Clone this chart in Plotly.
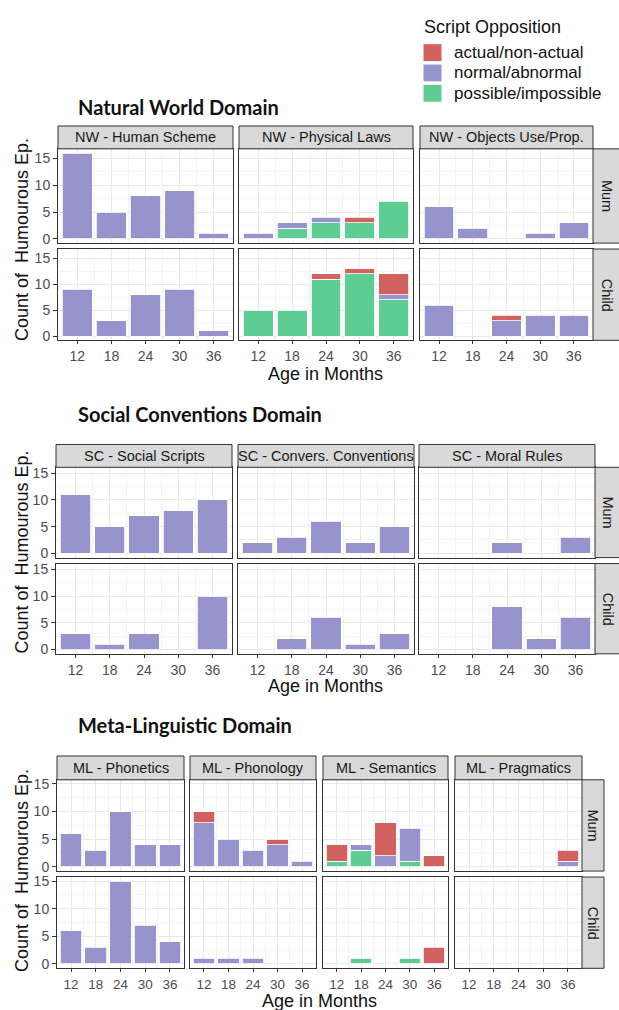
import plotly.graph_objects as go

W, H = 619, 1010

# ---------------- data ----------------
ages = [12, 18, 24, 30, 36]
age_labels = ["12", "18", "24", "30", "36"]
series_names = ["actual/non-actual", "normal/abnormal", "possible/impossible"]
row_names = ["Mum", "Child"]
y_ticks = [0, 5, 10, 15]

nw_panels = ["NW - Human Scheme", "NW - Physical Laws", "NW - Objects Use/Prop."]
nw_mum_actual = [[0, 0, 0, 0, 0], [0, 0, 0, 1, 0], [0, 0, 0, 0, 0]]
nw_mum_normal = [[16, 5, 8, 9, 1], [1, 1, 1, 0, 0], [6, 2, 0, 1, 3]]
nw_mum_possible = [[0, 0, 0, 0, 0], [0, 2, 3, 3, 7], [0, 0, 0, 0, 0]]
nw_child_actual = [[0, 0, 0, 0, 0], [0, 0, 1, 1, 4], [0, 0, 1, 0, 0]]
nw_child_normal = [[9, 3, 8, 9, 1], [0, 0, 0, 0, 1], [6, 0, 3, 4, 4]]
nw_child_possible = [[0, 0, 0, 0, 0], [5, 5, 11, 12, 7], [0, 0, 0, 0, 0]]

sc_panels = ["SC - Social Scripts", "SC - Convers. Conventions", "SC - Moral Rules"]
sc_mum_actual = [[0, 0, 0, 0, 0], [0, 0, 0, 0, 0], [0, 0, 0, 0, 0]]
sc_mum_normal = [[11, 5, 7, 8, 10], [2, 3, 6, 2, 5], [0, 0, 2, 0, 3]]
sc_mum_possible = [[0, 0, 0, 0, 0], [0, 0, 0, 0, 0], [0, 0, 0, 0, 0]]
sc_child_actual = [[0, 0, 0, 0, 0], [0, 0, 0, 0, 0], [0, 0, 0, 0, 0]]
sc_child_normal = [[3, 1, 3, 0, 10], [0, 2, 6, 1, 3], [0, 0, 8, 2, 6]]
sc_child_possible = [[0, 0, 0, 0, 0], [0, 0, 0, 0, 0], [0, 0, 0, 0, 0]]

ml_panels = ["ML - Phonetics", "ML - Phonology", "ML - Semantics", "ML - Pragmatics"]
ml_mum_actual = [[0, 0, 0, 0, 0], [2, 0, 0, 1, 0], [3, 0, 6, 0, 2], [0, 0, 0, 0, 2]]
ml_mum_normal = [[6, 3, 10, 4, 4], [8, 5, 3, 4, 1], [0, 1, 2, 6, 0], [0, 0, 0, 0, 1]]
ml_mum_possible = [[0, 0, 0, 0, 0], [0, 0, 0, 0, 0], [1, 3, 0, 1, 0], [0, 0, 0, 0, 0]]
ml_child_actual = [[0, 0, 0, 0, 0], [0, 0, 0, 0, 0], [0, 0, 0, 0, 3], [0, 0, 0, 0, 0]]
ml_child_normal = [[6, 3, 15, 7, 4], [1, 1, 1, 0, 0], [0, 0, 0, 0, 0], [0, 0, 0, 0, 0]]
ml_child_possible = [[0, 0, 0, 0, 0], [0, 0, 0, 0, 0], [0, 1, 0, 1, 0], [0, 0, 0, 0, 0]]

# ---------------- style ----------------
series_colors = {"actual/non-actual": "#D26260",
                 "normal/abnormal": "#9693CD",
                 "possible/impossible": "#5FCC94"}
FONT = "Liberation Sans"
TITLE_FONT = "Lato"
GRID = "#E8E8E8"
GRID_MINOR = "#F3F3F3"
BORDER = "#333333"
STRIP_FILL = "#D9D9D9"

sections = [
    dict(title="Natural World Domain", title_y=104, panels=nw_panels,
         rows=[[nw_mum_actual, nw_mum_normal, nw_mum_possible],
               [nw_child_actual, nw_child_normal, nw_child_possible]],
         cols=[(58, 233), (239, 413), (420, 593)], rstrip=(593, 621),
         strip=(123, 146), rowpx=[(146, 241), (247, 339)], yrange=[-0.8, 16.8],
         xtitle_y=373, ytitle_y=238, xtick_size=14),
    dict(title="Social Conventions Domain", title_y=413, panels=sc_panels,
         rows=[[sc_mum_actual, sc_mum_normal, sc_mum_possible],
               [sc_child_actual, sc_child_normal, sc_child_possible]],
         cols=[(56, 232), (238, 414), (419, 595)], rstrip=(595, 621),
         strip=(444, 467), rowpx=[(467, 558), (564, 655)], yrange=[-0.8, 16.1],
         xtitle_y=687, ytitle_y=553, xtick_size=14),
    dict(title="Meta-Linguistic Domain", title_y=727, panels=ml_panels,
         rows=[[ml_mum_actual, ml_mum_normal, ml_mum_possible],
               [ml_child_actual, ml_child_normal, ml_child_possible]],
         cols=[(57, 184), (190, 316), (323, 448), (455, 582)], rstrip=(582, 604),
         strip=(758, 782), rowpx=[(782, 874), (880, 972)], yrange=[-0.78, 15.75],
         xtitle_y=1005, ytitle_y=874, xtick_size=13.5),
]


def px_x(v):
    return v / W


def px_y(v):
    return 1 - v / H


fig = go.Figure()
layout = {}
shapes = []
annotations = []
n = 0

stack_order = ["possible/impossible", "normal/abnormal", "actual/non-actual"]

for sec in sections:
    annotations.append(dict(text="<b>" + sec["title"] + "</b>", x=px_x(76), y=px_y(sec["title_y"]),
                            xref="paper", yref="paper", xanchor="left", yanchor="middle",
                            showarrow=False, font=dict(family=TITLE_FONT, size=20, color="#111111")))
    for ci, (xa, xb) in enumerate(sec["cols"]):
        # column strip
        shapes.append(dict(type="rect", xref="paper", yref="paper",
                           x0=px_x(xa), x1=px_x(xb), y0=px_y(sec["strip"][1]), y1=px_y(sec["strip"][0]),
                           fillcolor=STRIP_FILL, line=dict(color=BORDER, width=1), layer="above"))
        annotations.append(dict(text=sec["panels"][ci], x=px_x((xa + xb) / 2),
                                y=px_y((sec["strip"][0] + sec["strip"][1]) / 2),
                                xref="paper", yref="paper", showarrow=False,
                                xanchor="center", yanchor="middle",
                                font=dict(family=FONT, size=14.5, color="#1A1A1A")))
        for ri, (ya, yb) in enumerate(sec["rowpx"]):
            n += 1
            xname = "xaxis" if n == 1 else f"xaxis{n}"
            yname = "yaxis" if n == 1 else f"yaxis{n}"
            xref = "x" if n == 1 else f"x{n}"
            yref = "y" if n == 1 else f"y{n}"
            bottom = ri == len(sec["rowpx"]) - 1
            left = ci == 0
            layout[xname] = dict(
                domain=[px_x(xa), px_x(xb)], anchor=yref, range=[8.6, 39.4],
                tickmode="array", tickvals=ages, ticktext=age_labels,
                showticklabels=bottom, ticks="outside" if bottom else "", ticklen=3,
                tickcolor=BORDER, tickfont=dict(family=FONT, size=sec["xtick_size"], color="#4D4D4D"),
                showgrid=True, gridcolor=GRID, gridwidth=1,
                minor=dict(tickmode="array", tickvals=[15, 21, 27, 33], showgrid=True,
                           gridcolor=GRID_MINOR, gridwidth=1, ticks=""),
                showline=True, mirror=True, linecolor=BORDER, linewidth=1,
                zeroline=False, fixedrange=True)
            layout[yname] = dict(
                domain=[px_y(yb), px_y(ya)], anchor=xref, range=sec["yrange"],
                tickmode="array", tickvals=y_ticks, ticktext=[str(t) for t in y_ticks],
                showticklabels=left, ticks="outside" if left else "", ticklen=4,
                tickcolor=BORDER, tickfont=dict(family=FONT, size=14, color="#4D4D4D"),
                showgrid=True, gridcolor=GRID, gridwidth=1,
                minor=dict(tickmode="array", tickvals=[2.5, 7.5, 12.5], showgrid=True,
                           gridcolor=GRID_MINOR, gridwidth=1, ticks=""),
                showline=True, mirror=True, linecolor=BORDER, linewidth=1,
                zeroline=False, fixedrange=True)
            series_data = dict(zip(series_names, sec["rows"][ri]))
            for s in stack_order:
                vals = series_data[s][ci]
                fig.add_trace(go.Bar(
                    x=ages, y=[v if v else None for v in vals], name=s,
                    marker=dict(color=series_colors[s], line=dict(color="white", width=0.8)),
                    width=5.3, xaxis=xref, yaxis=yref, showlegend=False,
                    hovertemplate=s + ": %{y}<extra></extra>"))
    # row strips
    ra, rb = sec["rstrip"]
    for ri, (ya, yb) in enumerate(sec["rowpx"]):
        shapes.append(dict(type="rect", xref="paper", yref="paper",
                           x0=px_x(ra), x1=px_x(rb), y0=px_y(yb), y1=px_y(ya),
                           fillcolor=STRIP_FILL, line=dict(color=BORDER, width=1), layer="above"))
        annotations.append(dict(text=row_names[ri], x=px_x((ra + min(rb, 619)) / 2 + (1 if rb > 619 else 0)),
                                y=px_y((ya + yb) / 2), xref="paper", yref="paper",
                                showarrow=False, textangle=90, xanchor="center", yanchor="middle",
                                font=dict(family=FONT, size=14.5, color="#1A1A1A")))
    # axis titles
    mid_x = (sec["cols"][0][0] + sec["cols"][-1][1]) / 2
    annotations.append(dict(text="Age in Months", x=px_x(mid_x), y=px_y(sec["xtitle_y"]),
                            xref="paper", yref="paper", showarrow=False,
                            xanchor="center", yanchor="middle",
                            font=dict(family=FONT, size=18, color="#111111")))
    annotations.append(dict(text="Count of  Humourous Ep.", x=px_x(22), y=px_y(sec["ytitle_y"]),
                            xref="paper", yref="paper", showarrow=False, textangle=-90,
                            xanchor="center", yanchor="middle",
                            font=dict(family=FONT, size=18, color="#111111")))

# legend (drawn manually)
annotations.append(dict(text="Script Opposition", x=px_x(422), y=px_y(23), xref="paper", yref="paper",
                        showarrow=False, xanchor="left", yanchor="middle",
                        font=dict(family=FONT, size=18, color="#111111")))
leg_rows = [49, 69.5, 90]
for i, s in enumerate(series_names):
    yc = leg_rows[i]
    shapes.append(dict(type="rect", xref="paper", yref="paper",
                       x0=px_x(423), x1=px_x(442), y0=px_y(yc + 9), y1=px_y(yc - 9),
                       fillcolor=series_colors[s], line=dict(color="white", width=1)))
    annotations.append(dict(text=s, x=px_x(452), y=px_y(yc), xref="paper", yref="paper",
                            showarrow=False, xanchor="left", yanchor="middle",
                            font=dict(family=FONT, size=17, color="#111111")))

fig.update_layout(**layout)
fig.update_layout(
    width=W, height=H, autosize=False,
    margin=dict(l=0, r=0, t=0, b=0),
    paper_bgcolor="white", plot_bgcolor="white",
    barmode="stack", shapes=shapes, annotations=annotations,
    font=dict(family=FONT), showlegend=False,
)

fig.write_html("out.html", post_script="document.body.style.margin='0';",
               config={"displayModeBar": False})
